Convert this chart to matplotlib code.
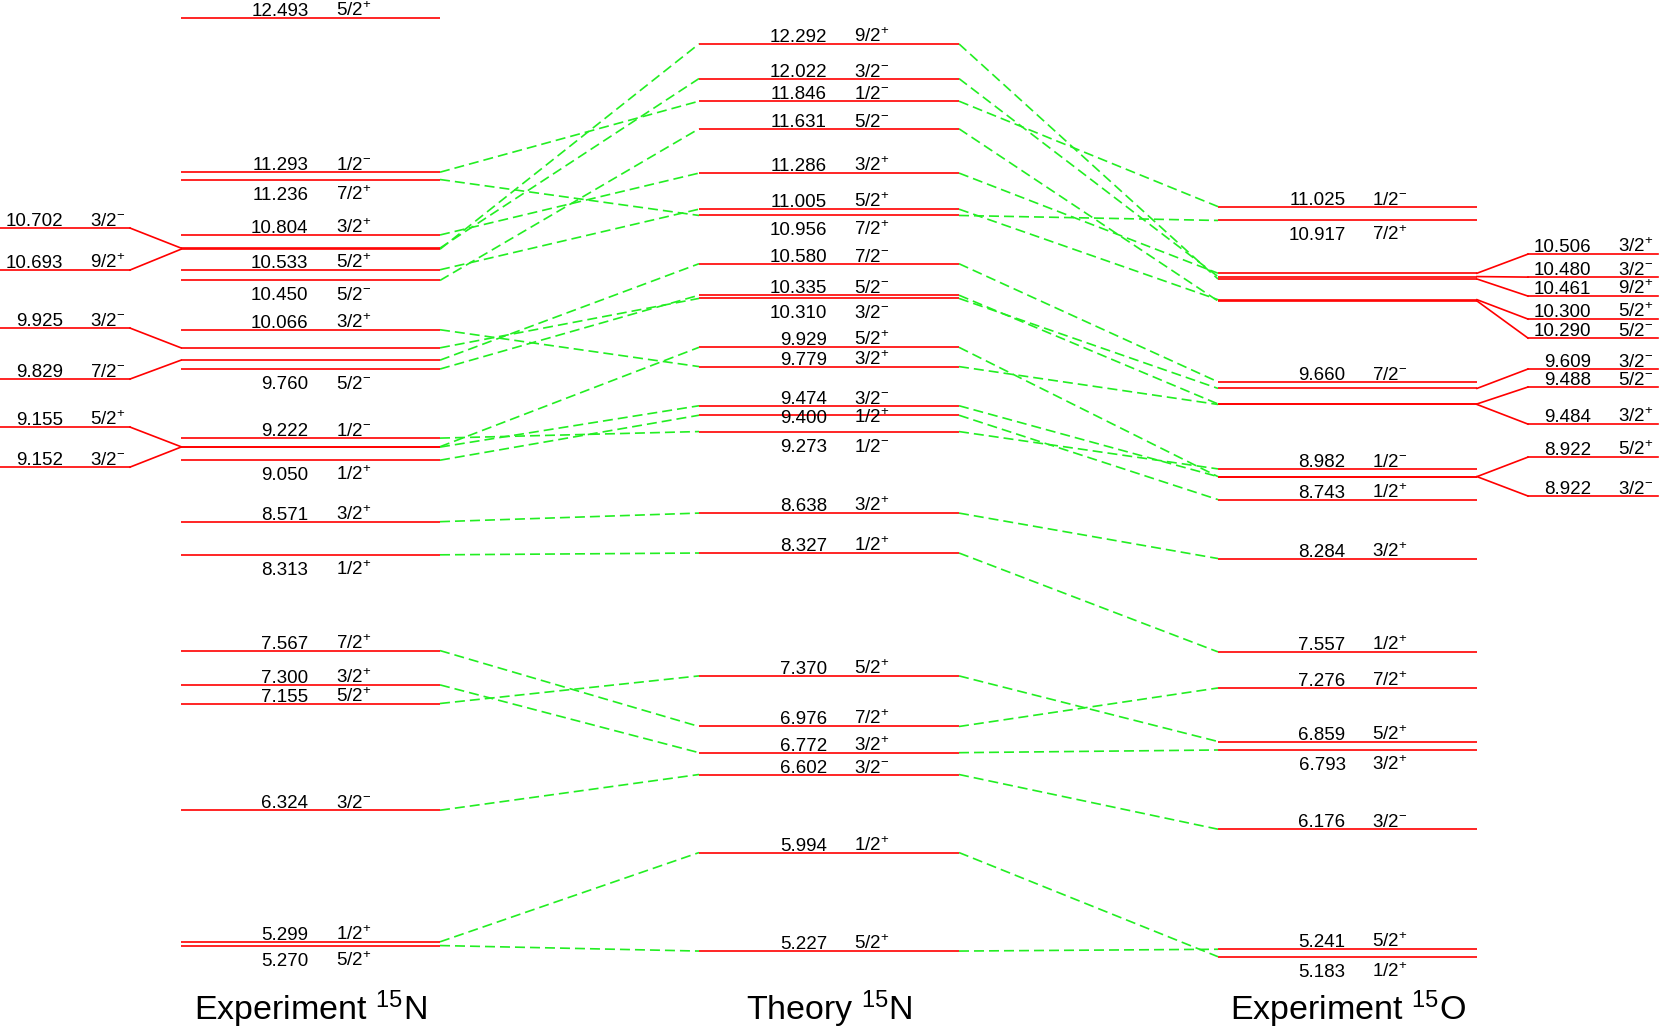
import matplotlib
matplotlib.use('Agg')
import matplotlib.pyplot as plt

plt.rcParams['font.family'] = ['Liberation Sans', 'DejaVu Sans']
plt.rcParams['mathtext.fontset'] = 'custom'
plt.rcParams['mathtext.rm'] = 'Liberation Sans'

# ---- level energies (MeV) and spin-parities ----
n15_exp_E = [12.493, 11.293, 11.236, 10.804, 10.702, 10.693, 10.533, 10.450,
             10.066, 9.925, 9.829, 9.760, 9.222, 9.155, 9.152, 9.050, 8.571,
             8.313, 7.567, 7.300, 7.155, 6.324, 5.299, 5.270]
n15_exp_J = ['5/2+', '1/2-', '7/2+', '3/2+', '3/2-', '9/2+', '5/2+', '5/2-',
             '3/2+', '3/2-', '7/2-', '5/2-', '1/2-', '5/2+', '3/2-', '1/2+', '3/2+',
             '1/2+', '7/2+', '3/2+', '5/2+', '3/2-', '1/2+', '5/2+']

theory_E = [12.292, 12.022, 11.846, 11.631, 11.286, 11.005, 10.956, 10.580,
            10.335, 10.310, 9.929, 9.779, 9.474, 9.400, 9.273, 8.638, 8.327,
            7.370, 6.976, 6.772, 6.602, 5.994, 5.227]
theory_J = ['9/2+', '3/2-', '1/2-', '5/2-', '3/2+', '5/2+', '7/2+', '7/2-',
            '5/2-', '3/2-', '5/2+', '3/2+', '3/2-', '1/2+', '1/2-', '3/2+', '1/2+',
            '5/2+', '7/2+', '3/2+', '3/2-', '1/2+', '5/2+']

o15_exp_E = [11.025, 10.917, 10.506, 10.480, 10.461, 10.300, 10.290, 9.660,
             9.609, 9.488, 9.484, 8.982, 8.922, 8.922, 8.743, 8.284, 7.557,
             7.276, 6.859, 6.793, 6.176, 5.241, 5.183]
o15_exp_J = ['1/2-', '7/2+', '3/2+', '3/2-', '9/2+', '5/2+', '5/2-', '7/2-',
             '3/2-', '5/2-', '3/2+', '1/2-', '5/2+', '3/2-', '1/2+', '3/2+', '1/2+',
             '7/2+', '5/2+', '3/2+', '3/2-', '5/2+', '1/2+']

# correspondences (experiment 15N -> theory, theory -> experiment 15O), by index
n15_to_theory = [(1, 2), (2, 6), (3, 4), (4, 1), (5, 0), (6, 5), (7, 3), (8, 11),
                 (9, 9), (10, 7), (11, 8), (12, 14), (13, 10), (14, 12), (15, 13),
                 (16, 15), (17, 16), (18, 18), (19, 19), (20, 17), (21, 20),
                 (22, 21), (23, 22)]
theory_to_o15 = [(0, 4), (1, 3), (2, 0), (3, 6), (4, 2), (5, 5), (6, 1), (7, 7),
                 (8, 9), (9, 8), (10, 12), (11, 10), (12, 13), (13, 14), (14, 11),
                 (15, 15), (16, 16), (17, 18), (18, 17), (19, 19), (20, 20),
                 (21, 22), (22, 21)]

# ---- layout ----
# label placement: a = above, b = below, m = slightly below, '' = shown in side column
n15_lab = ['a', 'a', 'b', 'a', '', '', 'a', 'b', 'a', '', '', 'b', 'a', '', '', 'b',
           'a', 'b', 'a', 'a', 'a', 'a', 'a', 'b']
theory_lab = ['a', 'a', 'a', 'a', 'a', 'a', 'b', 'a', 'a', 'b', 'a', 'a', 'a', 'm',
              'b', 'a', 'a', 'a', 'a', 'a', 'a', 'a', 'a']
o15_lab = ['a', 'b', '', '', '', '', '', 'a', '', '', '', 'a', '', '', 'a', 'a', 'a',
           'a', 'a', 'b', 'a', 'a', 'b']
lab_dy = {'a': 2, 'b': -20, 'm': -8}   # baseline offset in pixels

# spread-out positions (in energy units) of crowded levels in the side columns
side_left_pos = [10.858, 10.531, 10.079, 9.682, 9.308, 8.996]
side_right_pos = [10.655, 10.476, 10.328, 10.149, 10.001, 9.760, 9.620, 9.331,
                  9.074, 8.771]

col_left = (181, 440)
col_mid = (699, 959)
col_right = (1218, 1477)
side_left = (0, 130)
side_right = (1528, 1658)

RED = '#ff0000'
GREEN = '#22ee22'
FS = 13.5


def spin_text(j):
    sign = '+' if j.endswith('+') else '-'
    return r'$\mathregular{%s^{%s}}$' % (j[:-1], sign)


fig = plt.figure(figsize=(16.61, 10.29), dpi=100)
ax = fig.add_axes([0, 0, 1, 1])
ax.set_xlim(0, 1661)
ax.set_ylim(4.620, 12.634)
ax.axis('off')


def put_label(col, y, e, j, dy_px):
    xc = (col[0] + col[1]) / 2
    dy = dy_px * 0.72
    ax.annotate(f'{e:.3f}', (xc - 2, y), xytext=(0, dy), textcoords='offset points',
                ha='right', va='baseline', fontsize=FS)
    ax.annotate(spin_text(j), (xc + 25, y), xytext=(0, dy), textcoords='offset points',
                ha='left', va='baseline', fontsize=FS)


def draw_column(col, energies, spins, labels):
    for e, j, lab in zip(energies, spins, labels):
        ax.plot(col, [e, e], color=RED, lw=1.2, solid_capstyle='butt', zorder=3)
        if lab:
            put_label(col, e, e, j, lab_dy[lab])


draw_column(col_left, n15_exp_E, n15_exp_J, n15_lab)
draw_column(col_mid, theory_E, theory_J, theory_lab)
draw_column(col_right, o15_exp_E, o15_exp_J, o15_lab)

# side columns for the crowded levels
left_hidden = [i for i, l in enumerate(n15_lab) if l == '']
for i, ys in zip(left_hidden, side_left_pos):
    ax.plot(side_left, [ys, ys], color=RED, lw=1.2, zorder=3)
    ax.plot([side_left[1], col_left[0]], [ys, n15_exp_E[i]], color=RED, lw=1.2, zorder=3)
    put_label(side_left, ys, n15_exp_E[i], n15_exp_J[i], 2)

right_hidden = [i for i, l in enumerate(o15_lab) if l == '']
for i, ys in zip(right_hidden, side_right_pos):
    ax.plot(side_right, [ys, ys], color=RED, lw=1.2, zorder=3)
    ax.plot([col_right[1], side_right[0]], [o15_exp_E[i], ys], color=RED, lw=1.2, zorder=3)
    put_label(side_right, ys, o15_exp_E[i], o15_exp_J[i], 2)

# dashed correspondence lines
for a, b in n15_to_theory:
    ax.plot([col_left[1], col_mid[0]], [n15_exp_E[a], theory_E[b]],
            color=GREEN, lw=1.2, dashes=(6, 3), zorder=2)
for a, b in theory_to_o15:
    ax.plot([col_mid[1], col_right[0]], [theory_E[a], o15_exp_E[b]],
            color=GREEN, lw=1.2, dashes=(6, 3), zorder=2)

# column titles
titles = [r'Experiment $\mathregular{^{15}}$N', r'Theory $\mathregular{^{15}}$N',
          r'Experiment $\mathregular{^{15}}$O']
for col, t in zip([col_left, col_mid, col_right], titles):
    ax.text((col[0] + col[1]) / 2, 4.690, t, ha='center', va='baseline', fontsize=24.5)

fig.savefig('out.png', dpi=100)
